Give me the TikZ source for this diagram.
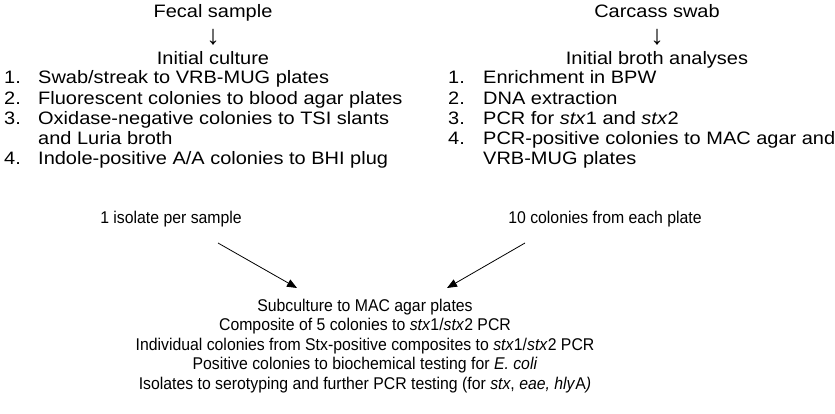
\documentclass[tikz,border=0pt]{standalone}
\usepackage{fontspec}
\setmainfont{Liberation Sans}
\newfontfamily\topfont{Liberation Sans}[FakeStretch=1.11]
\newfontfamily\lowfont{Liberation Sans}[FakeStretch=0.93]
\usetikzlibrary{arrows.meta}
\begin{document}
\begin{tikzpicture}[x=1pt,y=-1pt,
  txt/.style={inner sep=0pt,font=\topfont\fontsize{18}{20}\selectfont},
  stxt/.style={inner sep=0pt,font=\lowfont\fontsize{17}{19}\selectfont},
  arr/.style={inner sep=0pt,font=\fontsize{27}{27}\selectfont,anchor=center},
  num/.style={txt,anchor=base west},
  item/.style={txt,anchor=base west},
  ctr/.style={txt,anchor=base},
  sctr/.style={stxt,anchor=base},
  flow/.style={-{Triangle[length=10pt,width=8pt]},line width=0.8pt}]
\useasboundingbox (0,0) rectangle (835,413);
% left column
\node[ctr] (fecal) at (213,17) {Fecal sample};
\node[arr] (la) at (213,37) {↓};
\node[ctr] (ic) at (213,64) {Initial culture};
\node[num] (l1n) at (4,83) {1.};
\node[item] (l1) at (38,83) {Swab/streak to VRB-MUG plates};
\node[num] (l2n) at (4,104) {2.};
\node[item] (l2) at (38,104) {Fluorescent colonies to blood agar plates};
\node[num] (l3n) at (4,124) {3.};
\node[item] (l3) at (38,124) {Oxidase-negative colonies to TSI slants};
\node[item] (l3b) at (38,144) {and Luria broth};
\node[num] (l4n) at (4,164) {4.};
\node[item] (l4) at (38,164) {Indole-positive A/A colonies to BHI plug};
% right column
\node[ctr] (carc) at (657,17) {Carcass swab};
\node[arr] (ra) at (657,37) {↓};
\node[ctr] (iba) at (657,64) {Initial broth analyses};
\node[num] (r1n) at (448,83) {1.};
\node[item] (r1) at (483,83) {Enrichment in BPW};
\node[num] (r2n) at (448,104) {2.};
\node[item] (r2) at (483,104) {DNA extraction};
\node[num] (r3n) at (448,124) {3.};
\node[item] (r3) at (483,124) {PCR for \textit{stx}1 and \textit{stx}2};
\node[num] (r4n) at (448,144) {4.};
\node[item] (r4) at (483,144) {PCR-positive colonies to MAC agar and};
\node[item] (r4b) at (483,164) {VRB-MUG plates};
% middle labels
\node[sctr] (iso) at (171,223) {1 isolate per sample};
\node[sctr] (col) at (605,223) {10 colonies from each plate};
\coordinate (ls) at (218,243);
\coordinate (le) at (297,288);
\coordinate (rs) at (525,243);
\coordinate (re) at (447,288);
\draw[flow] (ls) -- (le);
\draw[flow] (rs) -- (re);
% bottom block
\node[sctr] (b1) at (365,311) {Subculture to MAC agar plates};
\node[sctr] (b2) at (365,330) {Composite of 5 colonies to \textit{stx}1/\textit{stx}2 PCR};
\node[sctr] (b3) at (365,350) {Individual colonies from Stx-positive composites to \textit{stx}1/\textit{stx}2 PCR};
\node[sctr] (b4) at (365,369) {Positive colonies to biochemical testing for \textit{E. coli}};
\node[sctr] (b5) at (365,389) {Isolates to serotyping and further PCR testing (for \textit{stx}, \textit{eae, hly}A\textit{)}};
\end{tikzpicture}
\end{document}
